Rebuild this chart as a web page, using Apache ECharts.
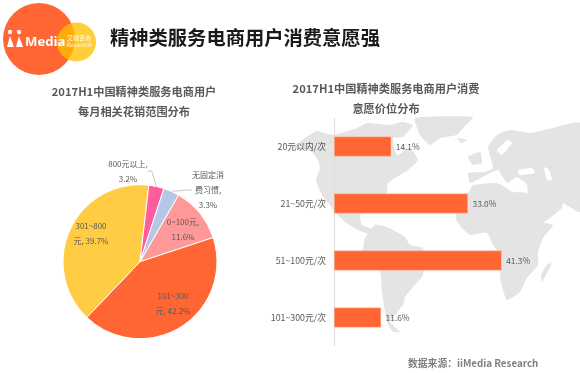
<!DOCTYPE html>
<html>
<head>
<meta charset="utf-8">
<style>
html,body{margin:0;padding:0;background:#fff;}
#main{width:580px;height:373px;}
</style>
<script src="https://cdn.jsdelivr.net/npm/echarts@6/dist/echarts.min.js"></script>
</head>
<body>
<div id="main"></div>
<script>
var FONT = '"Noto Sans CJK SC","Noto Sans",sans-serif';
//饼图数据
var pieNames = ['0~100元', '101~300元', '301~800元', '800元以上', '无固定消费习惯'];
var pieValues = [11.6, 42.2, 39.7, 3.2, 3.3];
var pieLabels = ['0~100元,\n11.6%', '101~300\n元, 42.2%', '301~800\n元, 39.7%', '800元以上,\n3.2%', '无固定消\n费习惯,\n3.3%'];
var pieColors = ['#FF9999', '#FF6633', '#FFCC44', '#FF5C9B', '#B4C7E7'];
//柱图数据
var barNames = ['20元以内/次', '21~50元/次', '51~100元/次', '101~300元/次'];
var barValues = [14.1, 33.0, 41.3, 11.6];

var LAND = '#E4E4E4';
//背景世界地图，只是装饰
function land(points, color) {
	return {type: 'polygon', z: 0, silent: true, shape: {points: points, smooth: 0.15}, style: {fill: color || LAND}};
}
var mapShapes = [
	land([[290,150],[305,138],[317,131],[333,135],[357,128],[367,123],[390,125],[402,122],[413,125],[403,137],[393,138],[397,155],[410,148],[418,160],[408,170],[395,178],[388,183],[387,192],[383,202],[388,213],[384,209],[370,210],[360,215],[362,225],[370,228],[378,233],[372,235],[358,230],[345,222],[335,212],[330,205],[322,195],[316,180],[320,168],[318,160],[312,152],[300,148]]),
	land([[365,238],[375,225],[387,227],[405,237],[410,245],[423,248],[423,275],[413,287],[405,297],[403,305],[395,315],[390,322],[400,332],[393,332],[387,322],[382,292],[380,272],[363,252]]),
	land([[456,220],[457,208],[470,190],[473,185],[497,183],[513,192],[527,193],[533,208],[543,222],[553,225],[543,238],[538,252],[538,265],[527,278],[520,292],[507,300],[500,278],[502,258],[493,245],[487,233],[470,235],[462,228]]),
	land([[542,282],[552,263],[547,265],[541,275]]),
	land([[470,183],[468,173],[485,172],[493,168],[488,147],[497,135],[510,130],[530,133],[553,128],[580,123],[580,212],[563,203],[562,208],[543,222],[528,198],[527,185],[517,177],[507,183],[498,170],[490,173]]),
	land([[415,118],[473,117],[463,128],[457,135],[440,138],[430,145],[420,135]]),
	land([[457,138],[467,140],[462,143]]),
	land([[468,157],[480,152],[482,163],[473,165]]),
	land([[518,170],[532,168],[535,173],[520,175]], '#fff'),
	land([[544,167],[549,170],[552,180],[547,180]], '#fff'),
	land([[497,150],[508,140],[512,143],[502,155]], '#fff')
];
//logo
var logoShapes = [
	{type: 'circle', z: 1, silent: true, shape: {cx: 39, cy: 39, r: 36}, style: {fill: '#FF6633'}},
	{type: 'circle', z: 2, silent: true, shape: {cx: 76.5, cy: 42, r: 19.5}, style: {fill: '#FFC000', opacity: 0.78}},
	{type: 'circle', z: 3, silent: true, shape: {cx: 10, cy: 32, r: 2.2}, style: {fill: '#fff'}},
	{type: 'circle', z: 3, silent: true, shape: {cx: 19, cy: 32, r: 2.2}, style: {fill: '#fff'}},
	{type: 'polygon', z: 3, silent: true, shape: {points: [[10,36],[14,47],[7,47]]}, style: {fill: '#fff'}},
	{type: 'polygon', z: 3, silent: true, shape: {points: [[19,36],[23,47],[16,47]]}, style: {fill: '#fff'}},
	{type: 'text', z: 3, silent: true, style: {x: 25, y: 42, text: 'Media', fill: '#fff', font: 'bold 13.2px "Open Sans",sans-serif', verticalAlign: 'middle'}},
	{type: 'text', z: 3, silent: true, style: {x: 67, y: 38, text: '艾媒咨询', fill: '#fff', font: '6px ' + FONT, verticalAlign: 'middle'}},
	{type: 'text', z: 3, silent: true, style: {x: 66, y: 45, text: 'Research', fill: '#fff', font: 'italic 6px ' + FONT, verticalAlign: 'middle'}}
];

function heading(text, x, y) {
	return {type: 'text', z: 5, silent: true, style: {x: x, y: y, text: text, fill: '#595959', font: 'bold 11.2px ' + FONT, align: 'center', verticalAlign: 'middle'}};
}
var textShapes = [
	{type: 'text', z: 5, silent: true, style: {x: 110, y: 38, text: '精神类服务电商用户消费意愿强', fill: '#1A1A1A', font: 'bold 19.3px ' + FONT, verticalAlign: 'middle'}},
	heading('2017H1中国精神类服务电商用户', 134, 92),
	heading('每月相关花销范围分布', 134, 112),
	heading('2017H1中国精神类服务电商用户消费', 386, 89),
	heading('意愿价位分布', 386, 109),
	{type: 'text', z: 5, silent: true, style: {x: 408, y: 363, text: '数据来源：iiMedia Research', fill: '#7F7F7F', font: 'bold 9.8px ' + FONT, verticalAlign: 'middle'}}
];

var labelSpots = [[183,229],[173,303],[91,233],[128,171],[208,190]];

var pieData = [];
for (var i = 0; i < pieValues.length; i++) {
	var outer = i > 2;
	pieData.push({
		name: pieNames[i],
		value: pieValues[i],
		itemStyle: {color: pieColors[i]},
		label: {position: outer ? 'outside' : 'inside', formatter: pieLabels[i]},
		labelLine: {show: outer, length: 12, length2: 4, lineStyle: {color: '#C8C8C8', width: 1}}
	});
}

var myChart = echarts.init(document.getElementById('main'));
myChart.setOption({
	animation: false,
	backgroundColor: '#fff',
	textStyle: {fontFamily: FONT},
	graphic: {elements: mapShapes.concat(logoShapes, textShapes)},
	grid: {left: 334, top: 118, width: 203, height: 228},
	xAxis: {type: 'value', min: 0, max: 50, show: false},
	yAxis: {
		type: 'category',
		inverse: true,
		data: barNames,
		axisLine: {lineStyle: {color: '#DCDCDC', width: 1}},
		axisTick: {show: false},
		axisLabel: {color: '#595959', fontSize: 8.8, margin: 8}
	},
	series: [{
		type: 'bar',
		z: 3,
		data: barValues,
		barWidth: 20,
		itemStyle: {color: '#FF6633', borderColor: '#FFC9B5', borderWidth: 0.5},
		label: {show: true, position: 'right', distance: 4.5, color: '#595959', fontSize: 8.4, formatter: function (p) { return p.value.toFixed(1) + '%'; }}
	}, {
		type: 'pie',
		z: 3,
		center: [140, 261.7],
		radius: [0, 77],
		startAngle: 60,
		clockwise: true,
		avoidLabelOverlap: false,
		data: pieData,
		itemStyle: {borderColor: '#fff', borderWidth: 1},
		label: {color: '#595959', fontSize: 8, lineHeight: 15, align: 'center'},
		labelLayout: function (p) {
			return {x: labelSpots[p.dataIndex][0], y: labelSpots[p.dataIndex][1], align: 'center', verticalAlign: 'middle'};
		}
	}]
});
</script>
</body>
</html>
